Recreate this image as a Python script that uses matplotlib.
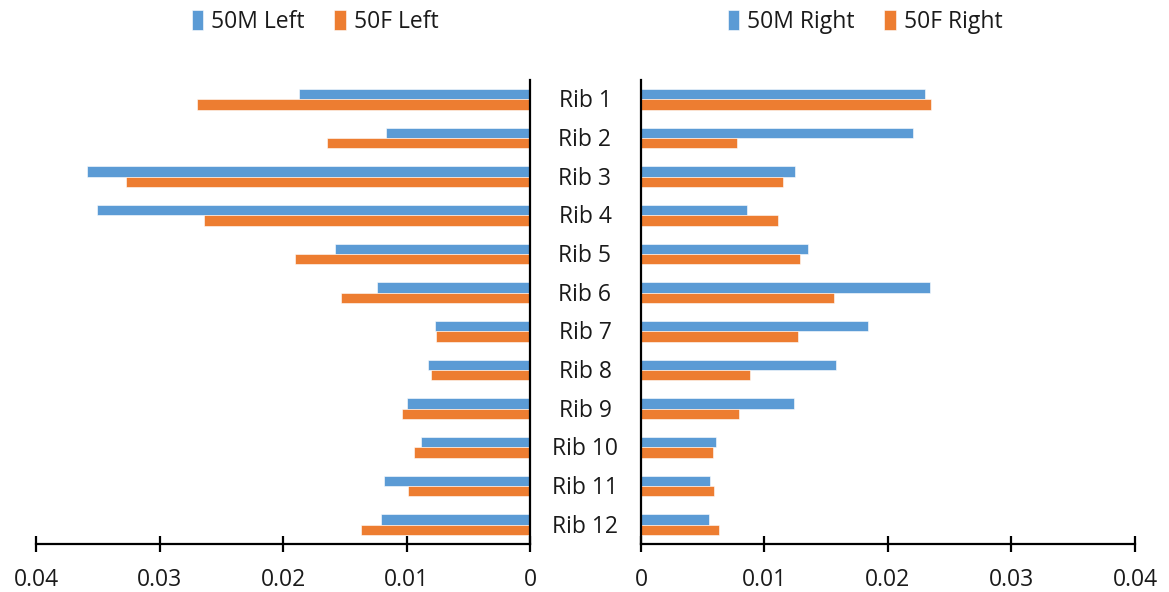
import matplotlib
matplotlib.use("Agg")
import matplotlib.pyplot as plt
import matplotlib.transforms as mtransforms
import numpy as np

plt.rcParams['font.family'] = ['Open Sans', 'DejaVu Sans']

ribs = [f"Rib {i}" for i in range(1, 13)]
m_left = [0.0187, 0.0117, 0.0359, 0.0351, 0.0158, 0.0124,
          0.0077, 0.0083, 0.0100, 0.0088, 0.0118, 0.0121]
f_left = [0.0270, 0.0164, 0.0327, 0.0264, 0.0190, 0.0153,
          0.0076, 0.0080, 0.0104, 0.0094, 0.0099, 0.0137]
m_right = [0.0230, 0.0220, 0.0125, 0.0086, 0.0135, 0.0234,
           0.0184, 0.0158, 0.0124, 0.0061, 0.0056, 0.0055]
f_right = [0.0235, 0.0078, 0.0115, 0.0111, 0.0129, 0.0156,
           0.0127, 0.0088, 0.0079, 0.0058, 0.0059, 0.0063]
x_ticks = [0, 0.01, 0.02, 0.03, 0.04]
x_ticklabels = ["0", "0.01", "0.02", "0.03", "0.04"]

BLUE = "#5B9BD5"
ORANGE = "#ED7D31"
FS = 16.5
TXT = "#1a1a1a"

fig = plt.figure(figsize=(11.69, 5.92), dpi=100)
ax_l = fig.add_axes([0.0308, 0.0811, 0.4226, 0.7838])
ax_r = fig.add_axes([0.5483, 0.0811, 0.4226, 0.7838])

y = np.arange(len(ribs))
h = 0.267

def draw(ax, m, f, lab_m, lab_f):
    ax.barh(y - h / 2, m, height=h, color=BLUE, edgecolor="white",
            linewidth=0.4, label=lab_m)
    ax.barh(y + h / 2, f, height=h, color=ORANGE, edgecolor="white",
            linewidth=0.4, label=lab_f)
    ax.set_xlim(0, 0.04)
    ax.set_ylim(len(ribs) - 0.5, -0.5)
    ax.set_xticks(x_ticks)
    ax.set_xticklabels(x_ticklabels, fontsize=FS, color=TXT)
    ax.set_yticks([])
    for s in ax.spines.values():
        s.set_visible(False)
    ax.spines['bottom'].set_visible(True)
    ax.spines['bottom'].set_linewidth(1.6)
    ax.tick_params(axis='x', direction='inout', length=12, width=1.6, pad=11)

draw(ax_l, m_left, f_left, "50M Left", "50F Left")
ax_l.invert_xaxis()
ax_l.spines['right'].set_visible(True)
ax_l.spines['right'].set_linewidth(1.6)

draw(ax_r, m_right, f_right, "50M Right", "50F Right")
ax_r.spines['left'].set_visible(True)
ax_r.spines['left'].set_linewidth(1.6)

# Category labels in the gap between the two panels
trans = mtransforms.blended_transform_factory(fig.transFigure, ax_l.transData)
for i, name in enumerate(ribs):
    ax_l.text(0.5004, i + 0.05, name, transform=trans, ha="center", va="center",
              fontsize=FS, color=TXT, clip_on=False)

leg_kw = dict(ncol=2, frameon=False, fontsize=FS, handlelength=0.5,
              handleheight=0.9, handletextpad=0.35, columnspacing=1.3,
              loc="center", labelcolor=TXT)
ax_l.legend(bbox_to_anchor=(0.2695, 0.963), bbox_transform=fig.transFigure, **leg_kw)
ax_r.legend(bbox_to_anchor=(0.740, 0.963), bbox_transform=fig.transFigure, **leg_kw)

fig.savefig("out.png", dpi=100)
